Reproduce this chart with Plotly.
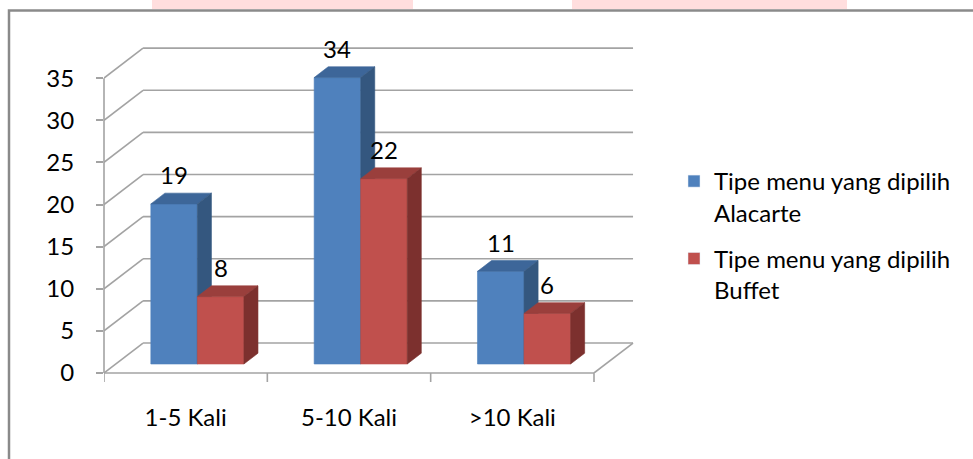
import plotly.graph_objects as go

# ---------------- data ----------------
categories = ["1-5 Kali", "5-10 Kali", ">10 Kali"]
alacarte = [19, 34, 11]
buffet = [8, 22, 6]
series_names = ["Tipe menu yang dipilih<br>Alacarte", "Tipe menu yang dipilih<br>Buffet"]
y_ticks = [0, 5, 10, 15, 20, 25, 30, 35]

# ---------------- styles ----------------
FONT = "Lato"
FS = 24
front_col = ["#4F81BD", "#C0504D"]
top_col = ["#3D6699", "#9A3F3C"]
side_col = ["#34577F", "#7C302E"]
grid_col = "#A3A3A3"

# pseudo-3D projection (data units)
DX, DY = 0.239, 3.56      # full depth of the wall / floor
F0, T = 0.30, 0.36        # bar front depth fraction, bar thickness fraction
BW = 0.285                # bar width
N = len(categories)
YMAX = 35

fig = go.Figure()

# legend-only bar traces
for s, name in enumerate(series_names):
    fig.add_trace(go.Bar(x=[None], y=[None], name=name, marker_color=front_col[s],
                         legendgroup=f"g{s}", showlegend=True))

series = [alacarte, buffet]
annotations = []
for i in range(N):
    for s in range(2):
        v = series[s][i]
        x0 = i + 0.5 - BW + s * BW + F0 * DX
        x1 = x0 + BW
        yb = F0 * DY
        yt = yb + v
        ddx, ddy = T * DX, T * DY
        # front
        fig.add_trace(go.Scatter(x=[x0, x1, x1, x0, x0], y=[yb, yb, yt, yt, yb],
                                 fill="toself", fillcolor=front_col[s], mode="lines",
                                 line=dict(width=0.6, color=front_col[s]),
                                 hoverinfo="skip", showlegend=False))
        # top
        fig.add_trace(go.Scatter(x=[x0, x1, x1 + ddx, x0 + ddx, x0],
                                 y=[yt, yt, yt + ddy, yt + ddy, yt],
                                 fill="toself", fillcolor=top_col[s], mode="lines",
                                 line=dict(width=0.6, color=top_col[s]),
                                 hoverinfo="skip", showlegend=False))
        # side
        fig.add_trace(go.Scatter(x=[x1, x1 + ddx, x1 + ddx, x1, x1],
                                 y=[yb, yb + ddy, yt + ddy, yt, yb],
                                 fill="toself", fillcolor=side_col[s], mode="lines",
                                 line=dict(width=0.6, color=side_col[s]),
                                 hoverinfo="skip", showlegend=False))
        annotations.append(dict(x=x0 + BW / 2, y=yt + ddy, text=str(v), showarrow=False,
                                xanchor="center", yanchor="bottom", yshift=2,
                                font=dict(family=FONT, size=FS, color="#000000")))

# ---------------- walls / gridlines ----------------
shapes = []
LW = 1.6
for k in y_ticks:
    shapes.append(dict(type="line", xref="x", yref="y", x0=DX, x1=N + DX, y0=k + DY, y1=k + DY,
                       line=dict(color=grid_col, width=LW), layer="below"))
    shapes.append(dict(type="line", xref="x", yref="y", x0=0, x1=DX, y0=k, y1=k + DY,
                       line=dict(color=grid_col, width=LW), layer="below"))
shapes.append(dict(type="line", xref="x", yref="paper", x0=0, x1=N, y0=0, y1=0,
                   line=dict(color=grid_col, width=LW), layer="below"))
shapes.append(dict(type="line", xref="x", yref="y", x0=N, x1=N + DX, y0=0, y1=DY,
                   line=dict(color=grid_col, width=LW), layer="below"))
shapes.append(dict(type="line", xref="paper", yref="y", x0=0, x1=0, y0=0, y1=YMAX,
                   line=dict(color=grid_col, width=LW), layer="below"))
for j in range(N + 1):
    shapes.append(dict(type="line", xref="x", yref="paper", ysizemode="pixel", yanchor=0,
                       x0=j, x1=j, y0=0, y1=-9, line=dict(color=grid_col, width=LW)))

# outer chart border and faint page decoration (paper coords)
PL, PR, PT, PB = 104, 643, 36, 373
def px(x):
    return (x - PL) / (PR - PL)
def py(y):
    return (PB - y) / (PB - PT)

for a, b in [(152, 413), (572, 847)]:
    shapes.append(dict(type="rect", xref="paper", yref="paper", x0=px(a), x1=px(b),
                       y0=py(0), y1=py(9), fillcolor="#FFDEDE", line=dict(width=0), layer="below"))
shapes.append(dict(type="rect", xref="paper", yref="paper", x0=px(9), x1=px(990),
                   y0=py(10.5), y1=py(480), line=dict(color="#8A8A8A", width=2.5),
                   fillcolor="rgba(0,0,0,0)", layer="below"))

fig.update_layout(
    width=973, height=459,
    margin=dict(l=PL, r=973 - PR, t=PT, b=459 - PB, pad=0),
    paper_bgcolor="white", plot_bgcolor="white",
    font=dict(family=FONT, size=FS, color="#000000"),
    showlegend=True,
    legend=dict(x=px(674), y=py(159), xanchor="left", yanchor="top",
                font=dict(family=FONT, size=FS, color="#000000"),
                tracegroupgap=12, valign="top", bgcolor="rgba(0,0,0,0)"),
    xaxis=dict(range=[0, 3.3], tickvals=[i + 0.5 for i in range(N)], ticktext=categories,
               ticks="", showgrid=False, zeroline=False, showline=False,
               ticklabelstandoff=28, fixedrange=True),
    yaxis=dict(range=[0, 40], tickvals=y_ticks, ticktext=[str(t) for t in y_ticks],
               ticks="outside", ticklen=7, tickwidth=1.6, tickcolor=grid_col,
               showgrid=False, zeroline=False, showline=False,
               ticklabelstandoff=17, fixedrange=True),
    shapes=shapes,
    annotations=annotations,
    bargap=0,
)

fig.write_html("out.html")
